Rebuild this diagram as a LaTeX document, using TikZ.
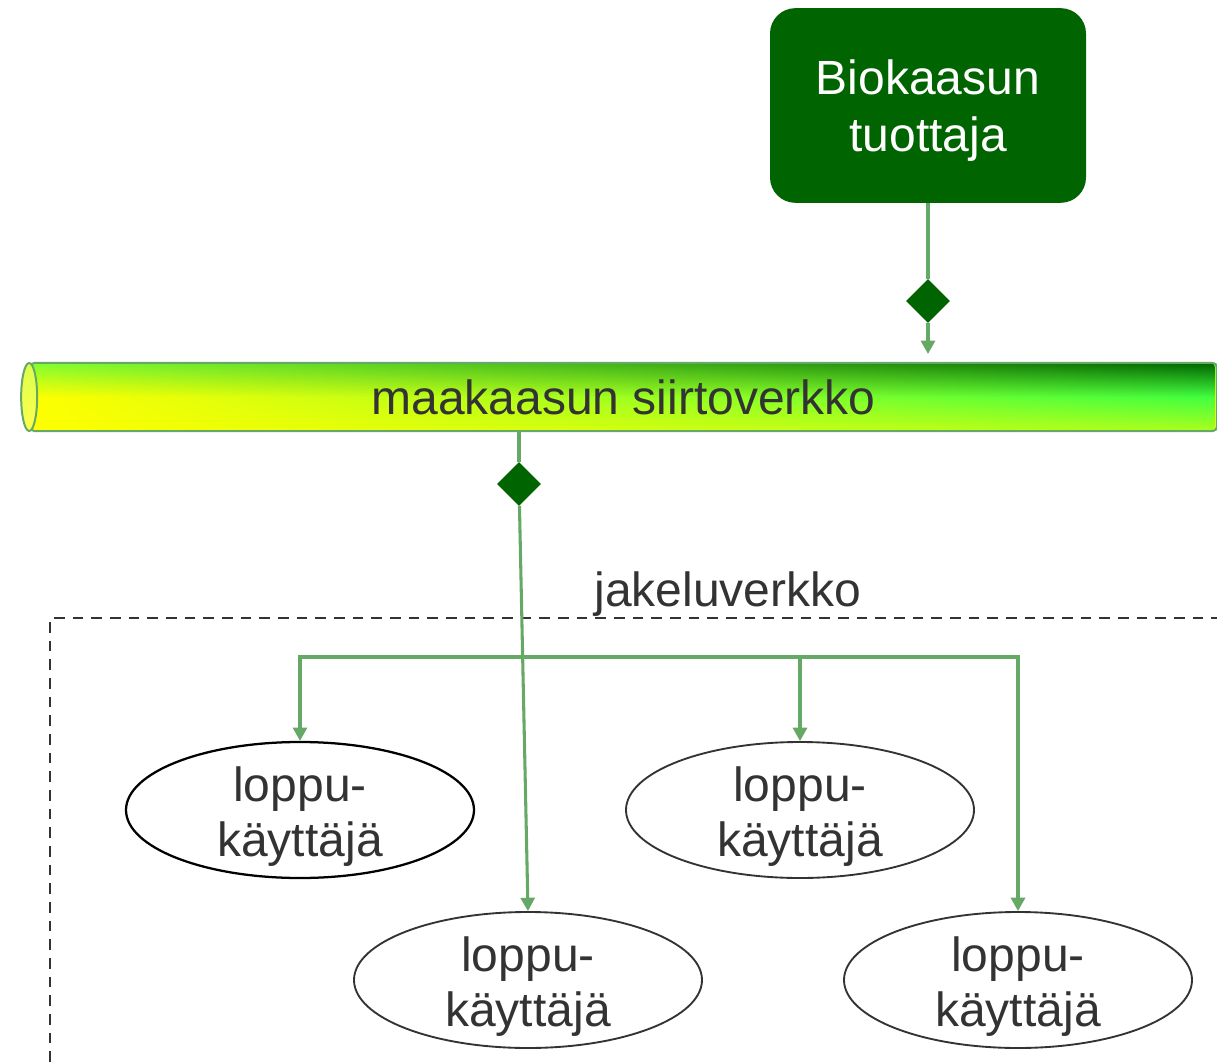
\documentclass[tikz,border=0pt]{standalone}
\usepackage{fontspec}
\setmainfont{Liberation Sans}
\usetikzlibrary{arrows.meta,shapes.geometric,fadings}
\definecolor{prodgreen}{RGB}{0,100,0}
\definecolor{linegreen}{RGB}{102,168,102}
\definecolor{textgray}{RGB}{51,51,51}
\definecolor{pipeyg}{RGB}{170,255,30}
\definecolor{pipetop}{RGB}{130,255,50}
\definecolor{pipelime}{RGB}{64,255,64}
\tikzfading[name=pipefade, left color=transparent!100, middle color=transparent!45, right color=transparent!0]
\newcommand{\flowlw}{2.3pt}
\newcommand{\bigfont}{\fontsize{36}{43}\selectfont}

\begin{document}
\begin{tikzpicture}[x=0.75pt,y=-0.75pt]
    \tikzset{
        flow/.style={draw=linegreen, line width=\flowlw},
        tip/.style={-{Triangle[width=10.5pt,length=10pt]}},
        valve/.style={diamond, fill=prodgreen, minimum size=33pt, inner sep=0pt},
        user/.style={ellipse, draw=textgray, line width=1.4pt, minimum width=261pt, minimum height=102pt},
        usertext/.style={text=textgray, font=\fontsize{36}{41}\selectfont, align=center, yshift=-5pt}
    }
    \useasboundingbox (0,0) rectangle (1217,1062);

    \node[rounded corners=19pt, fill=prodgreen, minimum width=237pt, minimum height=146pt,
        label={[text=white, font=\bigfont, align=center, yshift=-4pt]center:Biokaasun\\tuottaja}] (prod) at (928,105.5) {};
    \node[draw=linegreen, line width=1.5pt, rounded corners=3pt,
        top color=pipetop, bottom color=yellow, middle color=yellow,
        path picture={\shade[top color=prodgreen, bottom color=pipeyg, middle color=pipelime, path fading=pipefade]
            (path picture bounding box.south west) rectangle (path picture bounding box.north east);},
        minimum width=890pt, minimum height=51pt, inner sep=0pt, text=textgray, font=\bigfont] (pipe) at (623.5,397) {maakaasun siirtoverkko};
    \draw[linegreen, line width=1.5pt, top color=green!20!yellow!70!white, bottom color=yellow!70!white]
        (pipe.west) ellipse [x radius=6pt, y radius=25.5pt];

    \node[valve] (v1) at (928,301) {};
    \node[valve] (v2) at (519,484) {};

    \draw[textgray, line width=1.7pt, dash pattern=on 8pt off 6pt] (50,1062) |- (1217,618);
    \node[text=textgray, font=\bigfont] (dist) at (728,594) {jakeluverkko};

    \node[user, draw=black, line width=1.7pt, label={[usertext]center:loppu-\\käyttäjä}] (u1) at (300,810) {};
    \node[user, label={[usertext]center:loppu-\\käyttäjä}] (u2) at (528,980) {};
    \node[user, label={[usertext]center:loppu-\\käyttäjä}] (u3) at (800,810) {};
    \node[user, label={[usertext]center:loppu-\\käyttäjä}] (u4) at (1018,980) {};

    \draw[flow] (prod) -- (v1);
    \draw[flow, tip, shorten >=6pt] (v1) -- (v1 |- pipe.north);
    \draw[flow] (v2 |- pipe.south) -- (v2);
    \draw[flow, tip] (v2) -- (u2.north);

    \coordinate (hub) at (800,657);
    \draw[flow, tip] (hub) -| (u1.north);
    \draw[flow, tip] (hub) -- (u3.north);
    \draw[flow, tip] (hub) -| (u4.north);
\end{tikzpicture}
\end{document}
